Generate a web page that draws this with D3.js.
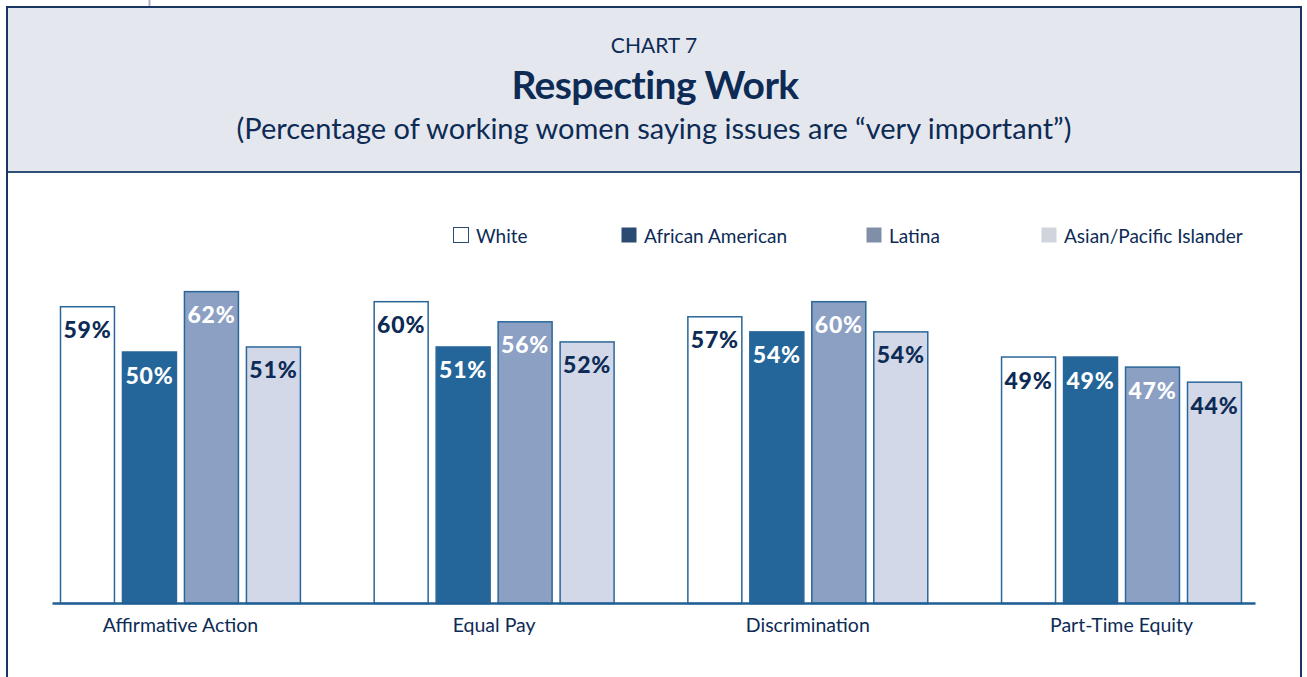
<!DOCTYPE html>
<html>
<head>
<meta charset="utf-8">
<script src="https://cdn.jsdelivr.net/npm/d3@7"></script>
<style>
  html, body { margin: 0; padding: 0; background: #ffffff; }
  svg { display: block; font-family: Lato, "Open Sans", sans-serif; }
</style>
</head>
<body>
<svg id="chart" width="1307" height="677"></svg>
<script>
const categories = ["Affirmative Action", "Equal Pay", "Discrimination", "Part-Time Equity"];
const seriesNames = ["White", "African American", "Latina", "Asian/Pacific Islander"];
const white = [59, 60, 57, 49];
const africanAmerican = [50, 51, 54, 49];
const latina = [62, 56, 60, 47];
const asianPacific = [51, 52, 54, 44];
const seriesValues = [white, africanAmerican, latina, asianPacific];

const barFill = ["#ffffff", "#246699", "#8ca0c4", "#d2d8e8"];
const legendFill = ["#ffffff", "#2b4b73", "#7f8fa8", "#d0d5dd"];
const labelFill = ["#0d2b55", "#ffffff", "#ffffff", "#0d2b55"];
const navy = "#0d2b55";

const svg = d3.select("#chart");

// small decorative tick at top
svg.append("line").attr("x1", 149.5).attr("x2", 149.5).attr("y1", 0).attr("y2", 7)
  .attr("stroke", "#aab4c8").attr("stroke-width", 2);

// header background
svg.append("rect").attr("x", 7).attr("y", 7).attr("width", 1294).attr("height", 165)
  .attr("fill", "#e4e8ee");
svg.append("line").attr("x1", 7).attr("x2", 1301).attr("y1", 172).attr("y2", 172)
  .attr("stroke", "#2f4f78").attr("stroke-width", 2);
// outer frame
svg.append("path").attr("d", "M7,680 V7 H1301 V680")
  .attr("fill", "none").attr("stroke", "#1a3560").attr("stroke-width", 2);

// titles
svg.append("text").attr("x", 654).attr("y", 53).attr("text-anchor", "middle")
  .attr("fill", navy).attr("font-size", 21).text("CHART 7");
svg.append("text").attr("x", 655).attr("y", 99).attr("text-anchor", "middle")
  .attr("fill", navy).attr("font-size", 39).attr("font-weight", "bold")
  .attr("letter-spacing", -0.6).text("Respecting Work");
svg.append("text").attr("x", 654).attr("y", 139).attr("text-anchor", "middle")
  .attr("fill", navy).attr("font-size", 29)
  .text("(Percentage of working women saying issues are \u201cvery important\u201d)");

// scales
const y = d3.scaleLinear().domain([0, 100]).range([603, 100]);
const x0 = d3.scaleBand().domain(categories).range([52, 1255])
  .paddingInner(0.232).paddingOuter(0.0335).align(0.38);
const x1 = d3.scaleBand().domain(seriesNames).range([0, x0.bandwidth()])
  .paddingInner(0.113).paddingOuter(0);

const data = categories.map((c, i) => ({
  category: c,
  values: seriesNames.map((s, j) => ({ series: s, idx: j, value: seriesValues[j][i] }))
}));

const groups = svg.append("g").selectAll("g").data(data).join("g")
  .attr("transform", d => `translate(${x0(d.category)},0)`);

groups.selectAll("rect").data(d => d.values).join("rect")
  .attr("x", d => x1(d.series) + 0.5)
  .attr("y", d => y(d.value) + 0.5)
  .attr("width", x1.bandwidth() - 1)
  .attr("height", d => y(0) - y(d.value))
  .attr("fill", d => barFill[d.idx])
  .attr("stroke", "#2a6699")
  .attr("stroke-width", 1.5);

groups.selectAll("text.val").data(d => d.values).join("text")
  .attr("class", "val")
  .attr("x", d => x1(d.series) + x1.bandwidth() / 2)
  .attr("y", d => y(d.value) + 32)
  .attr("text-anchor", "middle")
  .attr("font-size", 23).attr("font-weight", 900)
  .attr("letter-spacing", 0.8)
  .attr("fill", d => labelFill[d.idx])
  .text(d => d.value + "%");

// axis
const axis = svg.append("g").attr("transform", "translate(0,603)")
  .call(d3.axisBottom(x0).tickSize(0).tickSizeOuter(0).tickPadding(11));
axis.select(".domain").attr("stroke", "#1f5f94").attr("stroke-width", 2.5);
axis.selectAll(".tick text").attr("fill", navy).attr("font-size", 19.5)
  .attr("font-family", "Lato, 'Open Sans', sans-serif").attr("dy", "0.9em");

// legend
const legendX = [453, 621, 866, 1041];
const lg = svg.append("g").selectAll("g").data(seriesNames).join("g")
  .attr("transform", (d, i) => `translate(${legendX[i]},227)`);
lg.append("rect").attr("x", 0.5).attr("y", 0.5).attr("width", 15).attr("height", 15)
  .attr("fill", (d, i) => legendFill[i])
  .attr("stroke", (d, i) => i === 0 ? "#2b4b73" : "none").attr("stroke-width", 1);
lg.append("text").attr("x", 23).attr("y", 16).attr("fill", navy).attr("font-size", 19)
  .text(d => d);
</script>
</body>
</html>
